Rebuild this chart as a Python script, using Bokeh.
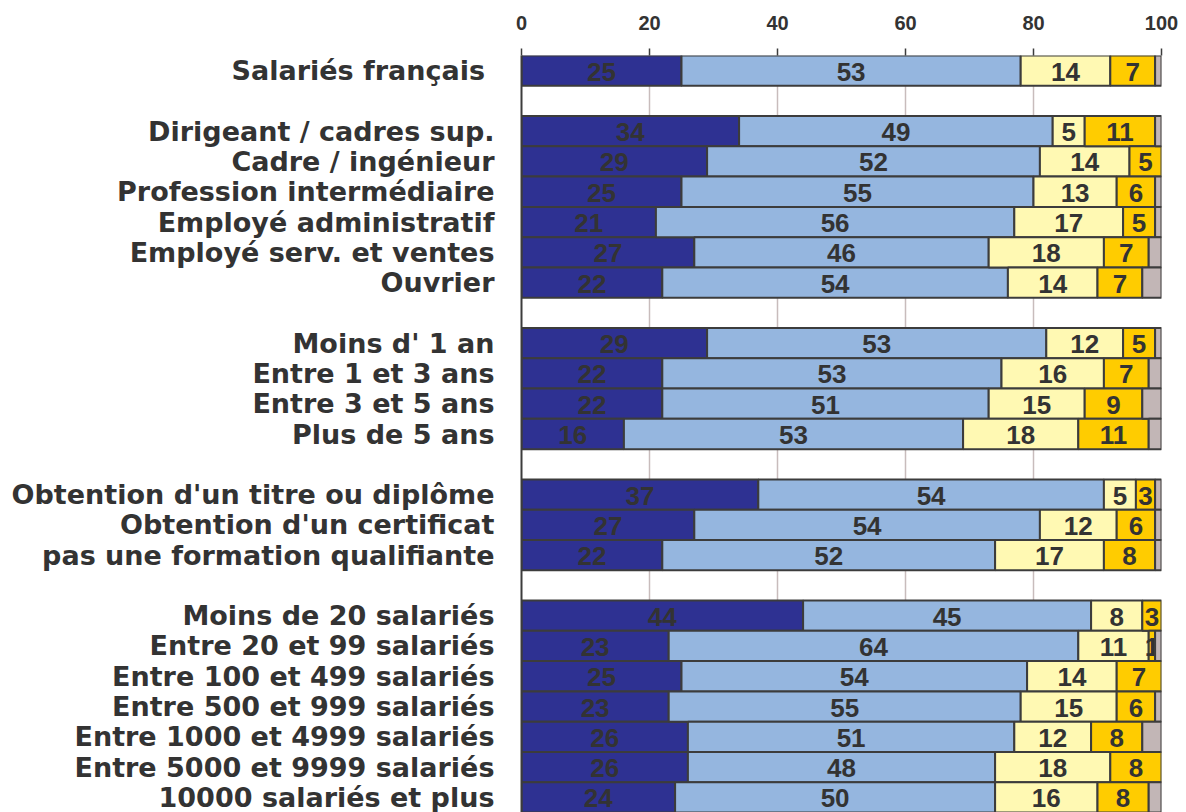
from bokeh.plotting import figure
from bokeh.models import Range1d, FixedTicker
from bokeh.core.properties import value
from bokeh.embed import file_html
from bokeh.resources import INLINE

# ---- data ----
group_labels = [
    ["Salariés  français"],
    ["Dirigeant / cadres sup.", "Cadre / ingénieur", "Profession intermédiaire",
     "Employé administratif", "Employé serv. et ventes", "Ouvrier"],
    ["Moins d' 1 an", "Entre 1 et 3 ans", "Entre 3 et 5 ans", "Plus de 5 ans"],
    ["Obtention d'un titre ou diplôme", "Obtention d'un certificat",
     "pas une formation qualifiante"],
    ["Moins de 20 salariés", "Entre 20 et 99 salariés", "Entre 100 et 499 salariés",
     "Entre 500 et 999 salariés", "Entre 1000 et 4999 salariés",
     "Entre 5000 et 9999 salariés", "10000 salariés et plus"],
]
seg1 = [25, 34, 29, 25, 21, 27, 22, 29, 22, 22, 16, 37, 27, 22, 44, 23, 25, 23, 26, 26, 24]
seg2 = [53, 49, 52, 55, 56, 46, 54, 53, 53, 51, 53, 54, 54, 52, 45, 64, 54, 55, 51, 48, 50]
seg3 = [14, 5, 14, 13, 17, 18, 14, 12, 16, 15, 18, 5, 12, 17, 8, 11, 14, 15, 12, 18, 16]
seg4 = [7, 11, 5, 6, 5, 7, 7, 5, 7, 9, 11, 3, 6, 8, 3, 1, 7, 6, 8, 8, 8]
seg5 = [1, 1, 0, 1, 1, 2, 3, 1, 2, 3, 2, 1, 1, 1, 0, 1, 0, 1, 3, 0, 2]
x_ticks = [0, 20, 40, 60, 80, 100]

colors = ["#2e3192", "#95b6df", "#fff9b3", "#ffcc00", "#c2b6b6"]
text_col = "#333333"
edge_col = "#3c3c3c"

# row positions (empty row between groups)
rows, labels = [], []
r = 0
for g in group_labels:
    for lab in g:
        rows.append(r)
        labels.append(lab)
        r += 1
    r += 1
n_rows = r - 1

p = figure(width=1186, height=812, output_backend="svg", toolbar_location=None,
           x_range=Range1d(0, 100), y_range=Range1d(n_rows - 0.5, -0.5),
           x_axis_location="above",
           min_border_left=521, min_border_right=25, min_border_top=55,
           min_border_bottom=0)
p.outline_line_color = None
p.background_fill_color = "white"
p.border_fill_color = "white"

series = [seg1, seg2, seg3, seg4, seg5]
lefts = [0.0] * len(rows)
for si, s in enumerate(series):
    ys, ls, rs, txt_x, txt_y, txt = [], [], [], [], [], []
    for i, v in enumerate(s):
        if v > 0:
            ys.append(rows[i]); ls.append(lefts[i]); rs.append(lefts[i] + v)
            if si < 4:
                txt_x.append(lefts[i] + v / 2); txt_y.append(rows[i]); txt.append(str(v))
        lefts[i] += v
    p.hbar(y=ys, left=ls, right=rs, height=1.0, fill_color=colors[si],
           line_color=edge_col, line_width=2)
    if txt:
        p.text(x=txt_x, y=txt_y, text=txt, text_align="center", text_baseline="middle",
               text_color=text_col, text_font_size="26px", text_font_style="bold",
               text_font=value("Liberation Sans"), y_offset=1)

# x axis on top
xa = p.xaxis[0]
xa.ticker = FixedTicker(ticks=x_ticks)
xa.axis_line_color = None
xa.major_tick_in = 0
xa.major_tick_out = 7
xa.major_tick_line_color = edge_col
xa.major_tick_line_width = 1.5
xa.minor_tick_line_color = None
xa.major_label_standoff = 19
xa.major_label_text_font = "Liberation Sans"
xa.major_label_text_font_style = "bold"
xa.major_label_text_font_size = "20px"
xa.major_label_text_color = text_col

p.xgrid.ticker = FixedTicker(ticks=x_ticks)
p.xgrid.grid_line_color = "#c8bcbc"
p.xgrid.grid_line_width = 1.5
p.ygrid.grid_line_color = None

ya = p.yaxis[0]
ya.ticker = FixedTicker(ticks=rows)
ya.major_label_overrides = {rw: lab for rw, lab in zip(rows, labels)}
ya.axis_line_color = edge_col
ya.axis_line_width = 2
ya.major_tick_line_color = None
ya.minor_tick_line_color = None
ya.major_label_standoff = 21
ya.major_label_text_font = "DejaVu Sans"
ya.major_label_text_font_style = "bold"
ya.major_label_text_font_size = "27px"
ya.major_label_text_color = text_col

open("out.html", "w").write(file_html(p, INLINE))
